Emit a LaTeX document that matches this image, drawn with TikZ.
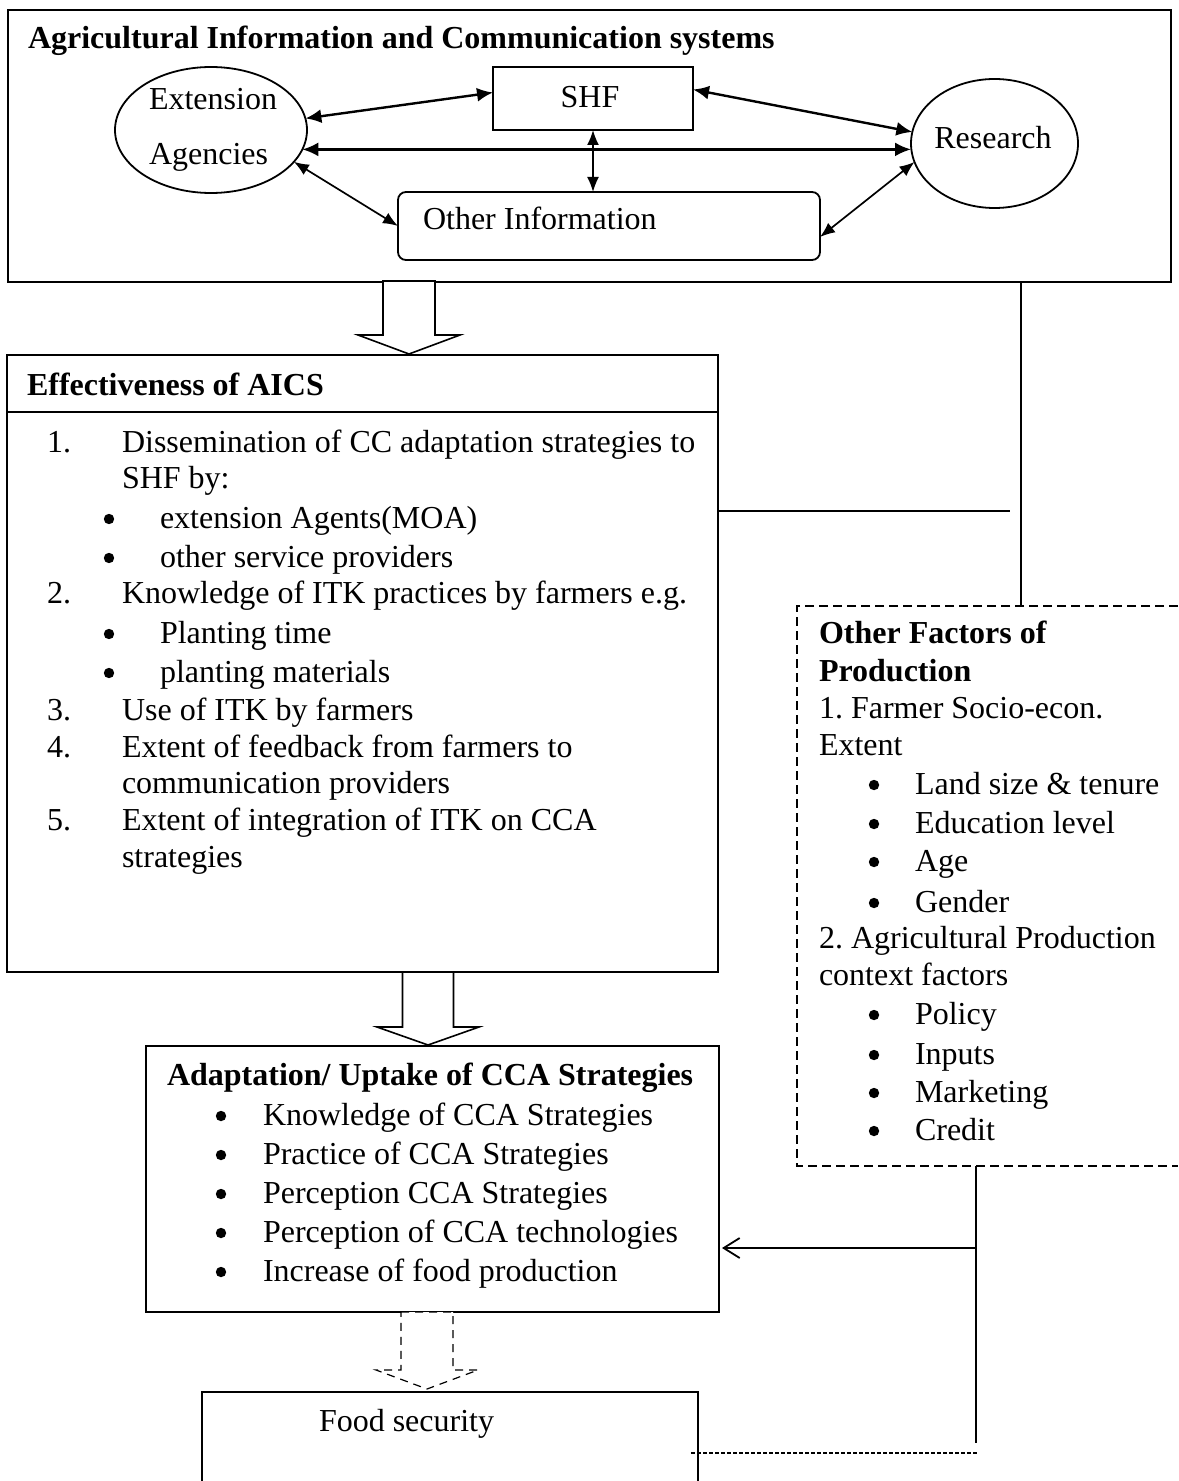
\documentclass[tikz,border=0pt]{standalone}
\usepackage{fontspec}
\setmainfont{Liberation Serif}
\usetikzlibrary{arrows.meta,calc,shapes.geometric}
\newcommand\fs{\fontsize{16}{19}\selectfont\frenchspacing}
\newcommand\putline[3]{\node[txt] (#1) at (#2) {#3};}
\newcommand\putbul[2]{\node[bul] (#1) at ($(#2)+(0,-9)$) {};}
\newcommand\blockarr[6]{%
  \draw[#1] ($(#2)+(-#4,0)$) -- ($(#2)+(#4,0)$) -- ($(#3)+(#4,-#6)$) -- ($(#3)+(#5,-#6)$) -- (#3)
    -- ($(#3)+(-#5,-#6)$) -- ($(#3)+(-#4,-#6)$) -- cycle;}
\tikzset{
  boxline/.style={draw, line width=0.9pt, inner sep=0pt, outer sep=0pt},
  nobox/.style={inner sep=0pt, outer sep=0pt},
  txt/.style={anchor=base west, inner sep=0pt, outer sep=0pt, font=\fs},
  ctxt/.style={anchor=base, inner sep=0pt, outer sep=0pt, font=\fs},
  bul/.style={circle, fill=black, minimum size=5.2pt, inner sep=0pt, outer sep=0pt},
  bi/.style={line width=1.2pt, {Latex[length=8pt,width=7pt]}-{Latex[length=8pt,width=7pt]}},
  bithin/.style={line width=0.85pt, {Latex[length=7.5pt,width=6pt]}-{Latex[length=7.5pt,width=6pt]}},
  link/.style={line width=0.7pt},
  dashbox/.style={line width=0.7pt, dash pattern=on 4.5pt off 2.5pt},
  barrow/.style={line width=0.8pt, fill=white},
  dbarrow/.style={line width=0.6pt, dash pattern=on 4pt off 3pt, fill=white},
  dotline/.style={line width=0.8pt, dash pattern=on 2pt off 1pt},
}
\begin{document}
\begin{tikzpicture}[x=0.5pt,y=-0.5pt]
\useasboundingbox (0,0) rectangle (1178,1481);
\fill[white] (0,0) rectangle (1178,1481);

% ---------- top box ----------
\node[boxline, minimum width=581.5pt, minimum height=136pt] (aics) at (589.5,146) {};
\putline{aicsT}{28,49}{\bfseries Agricultural Information and Communication systems}
\node[boxline, ellipse, minimum width=96pt, minimum height=63pt] (ext) at (211,130) {};
\putline{extA}{149,110}{Extension}
\putline{extB}{149,165}{Agencies}
\node[boxline, minimum width=100pt, minimum height=31.5pt] (shf) at (593,98.5) {};
\node[ctxt] (shfT) at (590,108) {SHF};
\node[boxline, ellipse, minimum width=83.5pt, minimum height=64.5pt] (res) at (994.5,143.5) {};
\node[ctxt] (resT) at (993,149) {Research};
\node[boxline, rounded corners=4pt, minimum width=211pt, minimum height=34pt] (oth) at (609,226) {};
\putline{othT}{423,230}{Other Information}

\draw[bi] (ext.7) -- ([yshift=3pt]shf.west);
\draw[bi] ([yshift=4.5pt]shf.east) -- (res.172);
\draw[bi] (ext.-12.4) -- (ext.-12.4 -| res.west);
\draw[bithin] (shf.south) -- (shf.south |- oth.north);
\draw[bithin] (ext.-21) -- (oth.west);
\draw[bithin] (res.193.5) -- ([yshift=-5.5pt]oth.east);

% ---------- effectiveness ----------
\node[boxline, minimum width=355.5pt, minimum height=308.5pt] (eff) at (362.5,663.5) {};
\coordinate (hl) at (0,412);
\draw[line width=0.9pt] (eff.west |- hl) -- (eff.east |- hl);
\putline{effT}{27,395}{\bfseries Effectiveness of AICS}
\putline{e1n}{47,452}{1.}
\putline{e1}{122,452}{Dissemination of CC adaptation strategies to}
\putline{e1b}{122,488}{SHF by:}
\putbul{eb1}{109,528}\putline{e1c}{160,528}{extension Agents(MOA)}
\putbul{eb2}{109,567}\putline{e1d}{160,567}{other service providers}
\putline{e2n}{47,603}{2.}
\putline{e2}{122,603}{Knowledge of ITK practices by farmers e.g.}
\putbul{eb3}{109,643}\putline{e2b}{160,643}{Planting time}
\putbul{eb4}{109,682}\putline{e2c}{160,682}{planting materials}
\putline{e3n}{47,720}{3.}
\putline{e3}{122,720}{Use of ITK by farmers}
\putline{e4n}{47,757}{4.}
\putline{e4}{122,757}{Extent of feedback from farmers to}
\putline{e4b}{122,793}{communication providers}
\putline{e5n}{47,830}{5.}
\putline{e5}{122,830}{Extent of integration of ITK on CCA}
\putline{e5b}{122,867}{strategies}

% ---------- adaptation ----------
\node[boxline, minimum width=286.5pt, minimum height=133pt] (adp) at (432.5,1179) {};
\putline{adpT}{167,1085}{\bfseries Adaptation/ Uptake of CCA Strategies}
\putbul{ab1}{221,1125}\putline{a1}{263,1125}{Knowledge of CCA Strategies}
\putbul{ab2}{221,1164}\putline{a2}{263,1164}{Practice of CCA Strategies}
\putbul{ab3}{221,1203}\putline{a3}{263,1203}{Perception CCA Strategies}
\putbul{ab4}{221,1242}\putline{a4}{263,1242}{Perception of CCA technologies}
\putbul{ab5}{221,1281}\putline{a5}{263,1281}{Increase of food production}

% ---------- other factors ----------
\node[nobox, minimum width=190.5pt, minimum height=280pt] (fac) at (987.5,886) {};
\draw[dashbox] (fac.north east) -- (fac.north west) -- (fac.south west) -- (fac.south east);
\putline{fT1}{819,643}{\bfseries Other Factors of}
\putline{fT2}{819,681}{\bfseries Production}
\putline{f1}{819,718}{1. Farmer Socio-econ.}
\putline{f1b}{819,755}{Extent}
\putbul{fb1}{874,794}\putline{f1c}{915,794}{Land size \& tenure}
\putbul{fb2}{874,833}\putline{f1d}{915,833}{Education level}
\putbul{fb3}{874,871}\putline{f1e}{915,871}{Age}
\putbul{fb4}{874,912}\putline{f1f}{915,912}{Gender}
\putline{f2}{819,948}{2. Agricultural Production}
\putline{f2b}{819,985}{context factors}
\putbul{fb5}{874,1024}\putline{f2c}{915,1024}{Policy}
\putbul{fb6}{874,1064}\putline{f2d}{915,1064}{Inputs}
\putbul{fb7}{874,1102}\putline{f2e}{915,1102}{Marketing}
\putbul{fb8}{874,1140}\putline{f2f}{915,1140}{Credit}

% ---------- food security ----------
\node[nobox, minimum width=248pt, minimum height=44.5pt] (food) at (450,1436.5) {};
\draw[line width=0.9pt] (food.south west) |- (food.north east) -- (food.south east);
\putline{foodT}{319,1431}{Food security}

% ---------- block arrows ----------
\coordinate (b1s) at (409,281);
\coordinate (b1t) at (409,354);
\blockarr{barrow}{b1s}{b1t}{26}{51}{19}
\coordinate (b2s) at (428,972);
\coordinate (b2t) at (428,1045);
\blockarr{barrow}{b2s}{b2t}{25.5}{51}{18}
\coordinate (b3s) at (427,1312);
\coordinate (b3t) at (427,1389);
\blockarr{dbarrow}{b3s}{b3t}{26}{51}{19}

% ---------- links ----------
\coordinate (v1) at (1021,282);
\draw[link] (v1) -- (v1 |- fac.north);
\coordinate (h1) at (1010,511);
\draw[link] (eff.east |- h1) -- (h1);
\coordinate (v2) at (976,1443);
\draw[link] (fac.south -| v2) -- (v2);
\coordinate (j2) at (976,1248);
\draw[line width=0.9pt, -{Straight Barb[length=8pt,width=10pt]}] (j2) -- ([xshift=1.5pt]j2 -| adp.east);
\coordinate (d2) at (977,1453);
\draw[dotline] ([xshift=-3.5pt]food.east |- d2) -- (d2);
\end{tikzpicture}
\end{document}
